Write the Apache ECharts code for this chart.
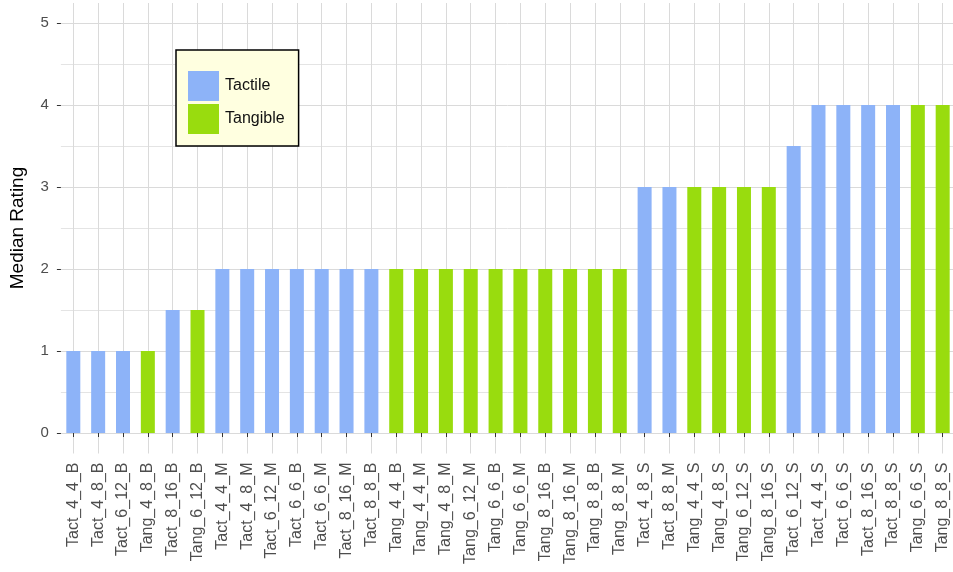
<!DOCTYPE html>
<html>
<head>
<meta charset="utf-8">
<script src="https://cdn.jsdelivr.net/npm/echarts@6/dist/echarts.min.js"></script>
<style>
html,body{margin:0;padding:0;background:#fff;}
#c{width:953px;height:572px;}
</style>
</head>
<body>
<div id="c"></div>
<script>
const categories = ["Tact_4_4_B","Tact_4_8_B","Tact_6_12_B","Tang_4_8_B","Tact_8_16_B","Tang_6_12_B","Tact_4_4_M","Tact_4_8_M","Tact_6_12_M","Tact_6_6_B","Tact_6_6_M","Tact_8_16_M","Tact_8_8_B","Tang_4_4_B","Tang_4_4_M","Tang_4_8_M","Tang_6_12_M","Tang_6_6_B","Tang_6_6_M","Tang_8_16_B","Tang_8_16_M","Tang_8_8_B","Tang_8_8_M","Tact_4_8_S","Tact_8_8_M","Tang_4_4_S","Tang_4_8_S","Tang_6_12_S","Tang_8_16_S","Tact_6_12_S","Tact_4_4_S","Tact_6_6_S","Tact_8_16_S","Tact_8_8_S","Tang_6_6_S","Tang_8_8_S"];
const medianRating = [1,1,1,1,1.5,1.5,2,2,2,2,2,2,2,2,2,2,2,2,2,2,2,2,2,3,3,3,3,3,3,3.5,4,4,4,4,4,4];
const groups = ["Tactile","Tangible"];
const yTicks = [0,1,2,3,4,5];

const tactileData = categories.map((c,i)=> c.startsWith("Tact") ? medianRating[i] : '-');
const tangibleData = categories.map((c,i)=> c.startsWith("Tang") ? medianRating[i] : '-');

const chart = echarts.init(document.getElementById('c'), null, {renderer:'canvas'});
const FONT = 'Liberation Sans, Arial, sans-serif';
const gridL = 60.9, gridR = -2.1;
chart.setOption({
  animation:false,
  backgroundColor:'#ffffff',
  textStyle:{fontFamily:FONT},
  legend:{
    data:groups,
    orient:'vertical',
    left:176, top:50,
    backgroundColor:'#ffffe0',
    borderColor:'#000000',
    borderWidth:1.5,
    padding:[21,14,12,12],
    itemWidth:31, itemHeight:30, itemGap:3,
    icon:'rect',
    textStyle:{fontSize:16, color:'#111', fontFamily:FONT, padding:[0,0,0,1]},
  },
  grid:[
    {left:gridL, right:gridR, top:23, bottom:139, outerBoundsMode:'none'},
    {left:gridL, right:gridR, top:3, bottom:118.5, outerBoundsMode:'none'}
  ],
  xAxis:[
    {
      type:'category', data:categories, gridIndex:0,
      offset:20.5,
      axisLine:{show:false},
      axisTick:{show:true, alignWithLabel:true, length:4, lineStyle:{color:'#333', width:1}},
      axisLabel:{rotate:90, fontSize:16, color:'#4d4d4d', margin:9, interval:0, fontFamily:FONT},
      splitLine:{show:false}
    },
    {
      type:'category', data:categories, gridIndex:1,
      axisLine:{show:false}, axisTick:{show:false}, axisLabel:{show:false},
      splitLine:{show:true, alignWithLabel:true, interval:0, lineStyle:{color:'#dadada', width:1}}
    }
  ],
  yAxis:[
    {
      type:'value', gridIndex:0, min:0, max:5, interval:1,
      name:'Median Rating', nameLocation:'middle', nameGap:34, nameRotate:90,
      nameTextStyle:{fontSize:19, color:'#000', fontFamily:FONT},
      axisLine:{show:false},
      axisTick:{show:true, length:4, lineStyle:{color:'#333'}},
      axisLabel:{fontSize:15, color:'#4d4d4d', margin:12, fontFamily:FONT,
        formatter:(v)=> yTicks.includes(v) ? String(v) : ''},
      splitLine:{show:true, lineStyle:{color:'#dadada', width:1}},
      minorTick:{show:false, splitNumber:2},
      minorSplitLine:{show:true, lineStyle:{color:'#e4e4e4', width:1}}
    },
    {type:'value', gridIndex:1, show:false, min:0, max:1, splitLine:{show:false}}
  ],
  series:[
    {name:groups[0], type:'bar', xAxisIndex:0, yAxisIndex:0, data:tactileData, barWidth:14, barGap:'-100%', itemStyle:{color:'#8db3f8'}, z:3},
    {name:groups[1], type:'bar', xAxisIndex:0, yAxisIndex:0, data:tangibleData, barWidth:14, barGap:'-100%', itemStyle:{color:'#99dc0e'}, z:3}
  ]
});
</script>
</body>
</html>
